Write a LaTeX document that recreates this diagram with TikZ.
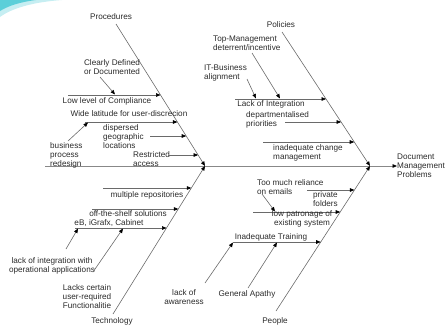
\documentclass[tikz,border=0pt]{standalone}
\usepackage{fontspec}
\setmainfont{Liberation Sans}
\usetikzlibrary{arrows.meta}
\definecolor{bonegrey}{HTML}{6A6A6A}
\definecolor{inkgrey}{HTML}{2A2A2A}
\definecolor{swooshcyan}{HTML}{5CCFD9}
\begin{document}
\begin{tikzpicture}[x=1bp,y=-1bp,
  lbl/.style={font=\fontsize{8.2}{9}\selectfont, text=inkgrey, inner sep=0pt, align=left},
  bone/.style={draw=bonegrey, line width=0.6bp},
  cause/.style={draw=bonegrey, line width=0.6bp,
    -{Triangle[length=4.5bp,width=3.6bp,color=black]}},
  spineline/.style={draw=bonegrey!80, line width=0.8bp,
    -{Triangle[length=4.5bp,width=3.6bp,color=black]}}]
\useasboundingbox (0,0) rectangle (445,333);

% corner swoosh
\fill[swooshcyan!35] (0,0) -- (62,0) .. controls (34,2) and (12,8) .. (0,17) -- cycle;
\fill[swooshcyan] (0,0) -- (36,0) .. controls (20,2) and (8,6) .. (0,11) -- cycle;

% effect and spine
\coordinate (spineS) at (45,166);
\node[lbl, anchor=west] (effect) at (397,166) {Document\\Management\\Problems};
\draw[spineline] (spineS) -- (effect.west);

% main bones
\coordinate (procT) at (116,24);  \coordinate (procJ) at (205,166);
\coordinate (poliT) at (282,32);  \coordinate (poliJ) at (370,166);
\coordinate (techB) at (113,314); \coordinate (techJ) at (205,166);
\coordinate (peopB) at (276,311); \coordinate (peopJ) at (370,166);
\node[lbl] (proc) at (111,17) {Procedures};
\node[lbl] (poli) at (281,25) {Policies};
\node[lbl] (tech) at (112,321) {Technology};
\node[lbl] (peop) at (275,321) {People};
\draw[cause] (procT) -- (procJ);
\draw[cause] (poliT) -- (poliJ);
\draw[cause] (techB) -- (techJ);
\draw[cause] (peopB) -- (peopJ);

% ---- Procedures ----
\coordinate (comS) at (68,95);  \coordinate (comE) at (160.5,95);
\draw[cause] (comS) -- (comE);
\node[lbl] (com) at (107,101) {Low level of Compliance};
\node[lbl, align=center] (cdd) at (112,67) {Clearly Defined\\or Documented};
\coordinate (cddS) at (100,77); \coordinate (cddE) at (115,94.5);
\draw[cause] (cddS) -- (cddE);

\coordinate (wideS) at (85,122); \coordinate (wideE) at (177.4,122);
\draw[cause] (wideS) -- (wideE);
\node[lbl] (wide) at (129,114) {Wide latitude for user-discrecion};
\node[lbl, anchor=west] (bpr) at (50,155) {business\\process\\redesign};
\coordinate (bprS) at (68,141); \coordinate (bprE) at (88,122.5);
\draw[cause] (bprS) -- (bprE);

\node[lbl, anchor=west] (disp) at (103,137) {dispersed\\geographic\\locations};
\coordinate (dispS) at (150,136); \coordinate (dispE) at (186.2,136);
\draw[cause] (dispS) -- (dispE);

\node[lbl, anchor=west] (restr) at (133,159.5) {Restricted\\access};
\coordinate (restrS) at (168,155); \coordinate (restrE) at (198.1,155);
\draw[cause] (restrS) -- (restrE);

% ---- Technology ----
\coordinate (repS) at (103,188); \coordinate (repE) at (191.3,188);
\draw[cause] (repS) -- (repE);
\node[lbl] (rep) at (147,195) {multiple repositories};

\coordinate (otsS) at (92,209); \coordinate (otsE) at (178.3,209);
\draw[cause] (otsS) -- (otsE);
\node[lbl] (ots) at (128,214) {off-the-shelf solutions};

\coordinate (prodS) at (75,228); \coordinate (prodE) at (166.5,228);
\draw[cause] (prodS) -- (prodE);
\node[lbl] (prod) at (109,223.5) {eB, iGrafx, Cabinet};

\node[lbl, align=center] (integ) at (52,266) {lack of integration with\\operational applications};
\coordinate (integS) at (66,249); \coordinate (integE) at (78,228.5);
\draw[cause] (integS) -- (integE);

\node[lbl, align=center] (func) at (87,297) {Lacks certain\\user-required\\Functionalitie};
\coordinate (funcS) at (93,272); \coordinate (funcE) at (123,228.5);
\draw[cause] (funcS) -- (funcE);

% ---- People ----
\node[lbl, anchor=west] (mail) at (257,187) {Too much reliance\\on emails};
\coordinate (mailS) at (262,194); \coordinate (mailE) at (275,211.5);
\draw[cause] (mailS) -- (mailE);

\node[lbl, anchor=west] (priv) at (313,199) {private\\folders};
\coordinate (privS) at (307,190); \coordinate (privE) at (354.4,190);
\draw[cause] (privS) -- (privE);

\coordinate (patS) at (253,212); \coordinate (patE) at (340.2,212);
\draw[cause] (patS) -- (patE);
\node[lbl, align=center] (pat) at (302,219) {low patronage of\\existing system};

\coordinate (trS) at (233,242); \coordinate (trE) at (320.7,242);
\draw[cause] (trS) -- (trE);
\node[lbl] (tr) at (271,237) {Inadequate Training};

\node[lbl, align=center] (aware) at (184,297) {lack of\\awareness};
\coordinate (awareS) at (205,283); \coordinate (awareE) at (233,242.5);
\draw[cause] (awareS) -- (awareE);

\node[lbl] (apathy) at (247,294) {General Apathy};
\coordinate (apathyS) at (248,288); \coordinate (apathyE) at (277,242.5);
\draw[cause] (apathyS) -- (apathyE);

% ---- Policies ----
\coordinate (lackS) at (235,99); \coordinate (lackE) at (326,99);
\draw[cause] (lackS) -- (lackE);
\node[lbl] (lack) at (271,104) {Lack of Integration};

\node[lbl, anchor=west] (topm) at (213,43.5) {Top-Management\\deterrent/incentive};
\coordinate (topmS) at (252,53); \coordinate (topmE) at (280,98.5);
\draw[cause] (topmS) -- (topmE);

\node[lbl, anchor=west] (itb) at (204,72.5) {IT-Business\\alignment};
\coordinate (itbS) at (247,79); \coordinate (itbE) at (256,98.5);
\draw[cause] (itbS) -- (itbE);

\node[lbl, anchor=west] (dept) at (246,119.5) {departmentalised\\priorities};
\coordinate (deptS) at (285,122); \coordinate (deptE) at (341.1,122);
\draw[cause] (deptS) -- (deptE);

\coordinate (chgS) at (263,142); \coordinate (chgE) at (354.2,142);
\draw[cause] (chgS) -- (chgE);
\node[lbl, anchor=west] (chg) at (273,152.5) {inadequate change\\management};
\end{tikzpicture}
\end{document}
